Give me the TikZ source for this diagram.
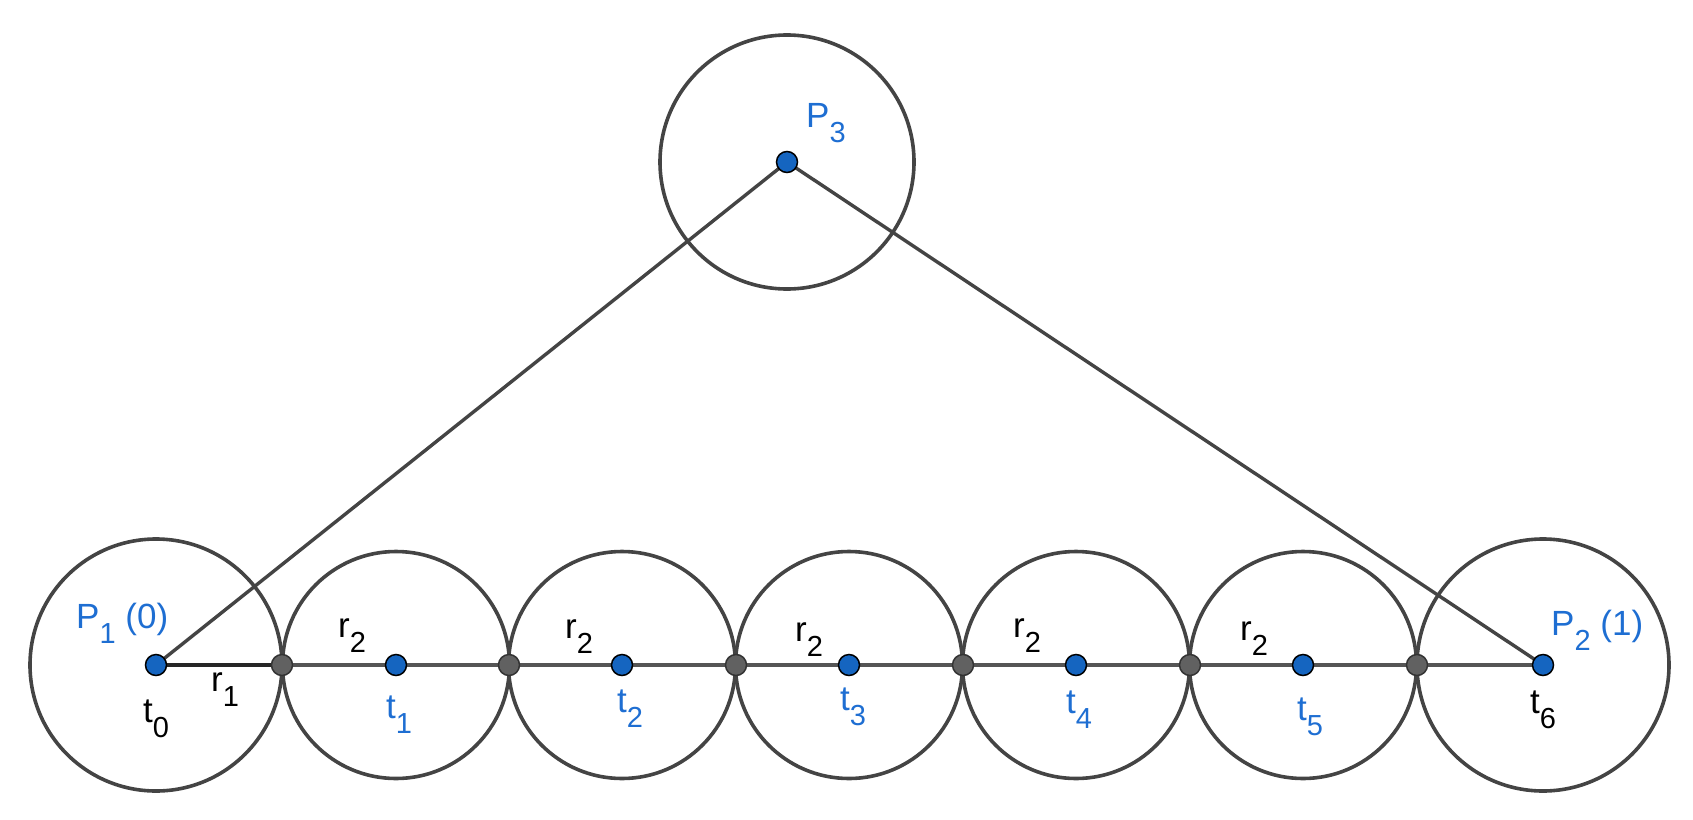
\documentclass[tikz,border=0pt]{standalone}
\usepackage{fontspec}
\setmainfont{Liberation Sans}
\definecolor{ptblue}{RGB}{21,101,192}
\definecolor{txtblue}{RGB}{30,110,210}
\definecolor{ln}{RGB}{68,68,68}
\definecolor{baseln}{RGB}{85,85,85}
\definecolor{ptgray}{RGB}{97,97,97}
\newcommand\sbs[1]{\raisebox{-15pt}{\fontsize{29}{30}\selectfont #1}}
\begin{document}
\begin{tikzpicture}[x=1pt,y=-1pt,
  circ/.style={draw=ln,line width=3.6pt},
  seg/.style={draw=ln,line width=3.4pt},
  baseseg/.style={draw=baseln,line width=4pt},
  rone/.style={draw=black!85,line width=4.5pt},
  bluept/.style={circle,fill=ptblue,draw=black,line width=1.5pt,minimum size=21pt,inner sep=0pt},
  graypt/.style={circle,fill=ptgray,draw=black!80,line width=1.5pt,minimum size=21pt,inner sep=0pt},
  lbl/.style={inner sep=0pt,anchor=base west,font=\fontsize{35}{40}\selectfont},
  bl/.style={lbl,text=txtblue},
  bk/.style={lbl,text=black}]
\useasboundingbox (0,0) rectangle (1693,819);
% coordinates
\coordinate (P1) at (156,665);
\coordinate (P2) at (1543,665);
\coordinate (P3) at (787,162);
\coordinate (t1) at (396,665);
\coordinate (t2) at (622,665);
\coordinate (t3) at (849,665);
\coordinate (t4) at (1076,665);
\coordinate (t5) at (1303,665);
\coordinate (g1) at (282,665);
\coordinate (g2) at (509,665);
\coordinate (g3) at (736,665);
\coordinate (g4) at (963,665);
\coordinate (g5) at (1190,665);
\coordinate (g6) at (1417,665);
% circles
\draw[circ] (P1) circle[radius=126];
\draw[circ] (P2) circle[radius=126];
\draw[circ] (P3) circle[radius=127];
\foreach \c in {t1,t2,t3,t4,t5} \draw[circ] (\c) circle[radius=113.5];
% lines
\draw[seg] (P1) -- (P3);
\draw[seg] (P3) -- (P2);
\draw[baseseg] (g1) -- (P2);
\draw[rone] (P1) -- (g1);
% points
\node[bluept] (nP1) at (P1) {};
\node[bluept] (nP2) at (P2) {};
\node[bluept] (nP3) at (P3) {};
\foreach \c in {t1,t2,t3,t4,t5} \node[bluept] (n\c) at (\c) {};
\foreach \c in {g1,g2,g3,g4,g5,g6} \node[graypt] (n\c) at (\c) {};
% labels
\node[bl] (lP1) at (76,628) {P\sbs{1} (0)};
\node[bl] (lP3) at (806,127) {P\sbs{3}};
\node[bl] (lP2) at (1551,635) {P\sbs{2} (1)};
\node[bk] (lt0) at (143,722) {t\sbs{0}};
\node[bl] (lt1) at (386,718) {t\sbs{1}};
\node[bl] (lt2) at (617,712) {t\sbs{2}};
\node[bl] (lt3) at (840,710) {t\sbs{3}};
\node[bl] (lt4) at (1066,713) {t\sbs{4}};
\node[bl] (lt5) at (1297,720) {t\sbs{5}};
\node[bk] (lt6) at (1530,713) {t\sbs{6}};
\node[bk] (lr1) at (211,691) {r\sbs{1}};
\node[bk] (lr2a) at (338,637) {r\sbs{2}};
\node[bk] (lr2b) at (565,638) {r\sbs{2}};
\node[bk] (lr2c) at (795,641) {r\sbs{2}};
\node[bk] (lr2d) at (1013,637) {r\sbs{2}};
\node[bk] (lr2e) at (1240,640) {r\sbs{2}};
\end{tikzpicture}
\end{document}
